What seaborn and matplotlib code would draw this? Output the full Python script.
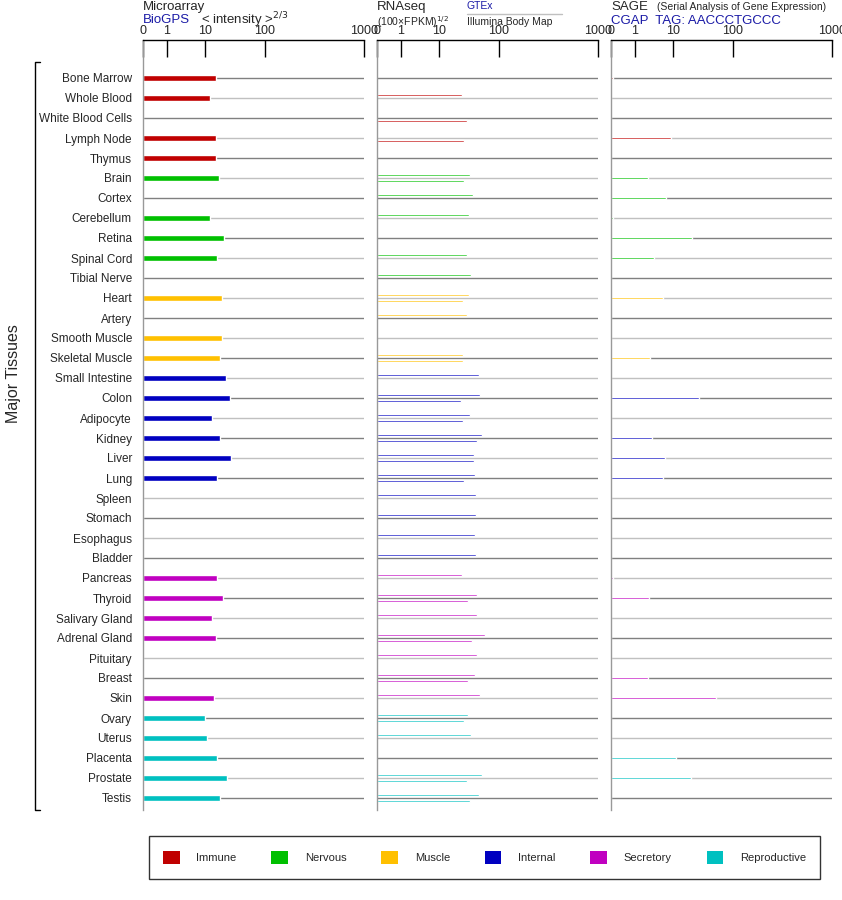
import numpy as np
import pandas as pd
import matplotlib
matplotlib.use("Agg")
import matplotlib.pyplot as plt
from matplotlib.lines import Line2D
from matplotlib.patches import Patch
import seaborn as sns

sns.set_theme(style="white")
plt.rcParams["font.family"] = "Liberation Sans"
nan = np.nan

tissues = ["Bone Marrow", "Whole Blood", "White Blood Cells", "Lymph Node", "Thymus",
           "Brain", "Cortex", "Cerebellum", "Retina", "Spinal Cord", "Tibial Nerve",
           "Heart", "Artery", "Smooth Muscle", "Skeletal Muscle",
           "Small Intestine", "Colon", "Adipocyte", "Kidney", "Liver", "Lung", "Spleen",
           "Stomach", "Esophagus", "Bladder",
           "Pancreas", "Thyroid", "Salivary Gland", "Adrenal Gland", "Pituitary", "Breast", "Skin",
           "Ovary", "Uterus", "Placenta", "Prostate", "Testis"]
groups = (["Immune"] * 5 + ["Nervous"] * 6 + ["Muscle"] * 4 + ["Internal"] * 10
          + ["Secretory"] * 7 + ["Reproductive"] * 5)
group_colors = {"Immune": "#c00000", "Nervous": "#00c000", "Muscle": "#ffc000",
                "Internal": "#0000c0", "Secretory": "#c000c0", "Reproductive": "#00c0c0"}

microarray = [15, 12, nan, 15, 15, 17, nan, 12, 21, 16, nan, 19, nan, 19, 18,
              22, 26, 13, 18, 27, 16, nan, nan, nan, nan,
              16, 20, 13, 15, nan, nan, 14, 10, 11, 16, 23, 18]
gtex = [nan, 24, nan, nan, nan, 33, 37, 32, nan, 29, 34, 32, 29, nan, 25,
        46, 48, 33, 52, 38, 40, 41, 41, 40, 41,
        24, 43, 43, 58, 43, 40, 48, 30, 34, nan, 52, 46]
illumina = [nan, nan, 29, 26, nan, 26, nan, nan, nan, nan, nan, 25, nan, nan, 25,
            nan, 23, 25, 43, 38, 26, nan, nan, nan, nan,
            nan, 30, nan, 35, nan, 30, nan, 26, nan, nan, 29, 33]
sage = [0.1, nan, nan, 8.9, nan, 2.2, 6.5, 0.1, 20.7, 3.2, nan, 5.5, nan, nan, 2.5,
        nan, 27, nan, 2.8, 6.1, 5.3, nan, nan, nan, nan,
        0.1, 2.3, nan, nan, nan, 2.2, 52, nan, nan, 11.2, 20, nan]

tick_vals = [0, 1, 10, 100, 1000]
tick_pos = [0.0, 24.0, 62.0, 122.0, 221.0]
lv = [0.0, 1.0, 2.0, 3.0]


def fwd(v):
    v = np.asarray(v, dtype=float)
    lg = np.log10(np.clip(v, 1e-9, None))
    p_log = np.interp(lg, lv, tick_pos[1:])
    p_log = np.where(lg > 3, tick_pos[-1] + (lg - 3) * 99, p_log)
    return np.where(v <= 1, v * tick_pos[1], p_log)


def inv(p):
    p = np.asarray(p, dtype=float)
    lg = np.interp(p, tick_pos[1:], lv)
    lg = np.where(p > tick_pos[-1], 3 + (p - tick_pos[-1]) / 99, lg)
    return np.where(p <= tick_pos[1], p / tick_pos[1], 10 ** lg)


df = pd.DataFrame({"tissue": tissues, "group": groups, "micro": microarray,
                   "gtex": gtex, "illumina": illumina, "sage": sage})
df["y"] = np.arange(len(df))

W, H = 842, 900
fig = plt.figure(figsize=(W / 100, H / 100), dpi=100)
lefts = [143, 377, 611]
axes = [fig.add_axes([l / W, 90 / H, 221 / W, 770 / H]) for l in lefts]

for ax in axes:
    ax.set_xscale("function", functions=(fwd, inv))
    ax.set_xlim(0, 1000)
    ax.set_ylim(36.6, -1.9)
    for i in range(len(df)):
        ax.axhline(i, color="#808080" if i % 2 == 0 else "#c0c0c0", lw=1, zorder=0)
    ax.xaxis.tick_top()
    ax.set_xticks(tick_vals)
    ax.set_xticklabels([str(t) for t in tick_vals], fontsize=9)
    ax.xaxis.set_minor_locator(matplotlib.ticker.NullLocator())
    ax.tick_params(axis="x", direction="in", length=12, width=1, pad=2, color="black")
    ax.tick_params(axis="y", length=0)
    for s in ["right", "bottom"]:
        ax.spines[s].set_visible(False)
    ax.spines["left"].set_color("#999999")
    ax.spines["left"].set_linewidth(1)
    ax.spines["top"].set_color("black")
    ax.spines["top"].set_linewidth(1)
    ax.set_xlabel("")
    ax.set_ylabel("")

palette = [group_colors[g] for g in df["group"]]
ax1, ax2, ax3 = axes
ax1.barh(df["y"], df["micro"].fillna(0), height=0.27, color=palette, zorder=2)
ax2.barh(df["y"] - 0.15, df["gtex"].fillna(0), height=0.14, color=palette, zorder=2)
ax2.barh(df["y"] + 0.15, df["illumina"].fillna(0), height=0.14, color=palette, zorder=2)
ax3.barh(df["y"], df["sage"].fillna(0), height=0.14, color=palette, zorder=2)

ax1.set_yticks(df["y"])
ax1.set_yticklabels(df["tissue"], fontsize=8.5)
ax1.tick_params(axis="y", pad=8)
for ax in (ax2, ax3):
    ax.set_yticks([])


def ft(x, y, s, **kw):
    fig.text(x / W, 1 - y / H, s, va="center", **kw)


ft(143, 7, "Microarray", fontsize=9.5)
ft(143, 20, "BioGPS", fontsize=9.5, color="#1a1aa6")
ft(201, 20, "< intensity >$^{2/3}$", fontsize=9.5)
ft(377, 7, "RNAseq", fontsize=9.5)
ft(377, 22, "(100×FPKM)$^{1/2}$", fontsize=7.5)
ft(467, 6, "GTEx", fontsize=7.5, color="#1a1aa6")
fig.add_artist(Line2D([467 / W, 562 / W], [1 - 14 / H, 1 - 14 / H], color="#c0c0c0", lw=1))
ft(467, 22, "Illumina Body Map", fontsize=7.5)
ft(611, 7, "SAGE", fontsize=9.5)
ft(657, 7, "(Serial Analysis of Gene Expression)", fontsize=7.5)
ft(611, 21, "CGAP  TAG: AACCCTGCCC", fontsize=9.5, color="#1a1aa6")

bx = 35 / W
fig.add_artist(Line2D([40 / W, bx, bx, 40 / W], [1 - 62 / H, 1 - 62 / H, 1 - 810 / H, 1 - 810 / H],
                      color="black", lw=1))
fig.text(14 / W, 1 - 374 / H, "Major Tissues", rotation=90, fontsize=11.5,
         ha="center", va="center")

handles = [Patch(facecolor=c, edgecolor="none", label=g) for g, c in group_colors.items()]
leg = fig.legend(handles=handles, ncol=6, loc="center",
                 bbox_to_anchor=(143 / W, 1 - 885 / H, 683 / W, 55 / H), mode="expand",
                 fontsize=8, frameon=True, fancybox=False, edgecolor="black",
                 handlelength=1.5, handleheight=1.5, borderpad=1.3, handletextpad=1.5)
leg.get_frame().set_linewidth(1)

fig.savefig("out.png", dpi=100)
